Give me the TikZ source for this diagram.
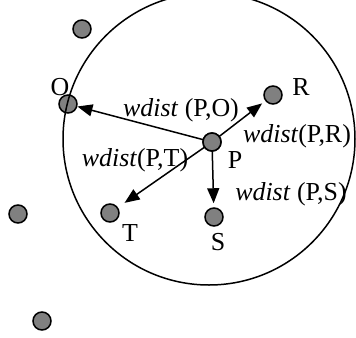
\documentclass[tikz,border=0pt]{standalone}
\usepackage{fontspec}
\setmainfont{Liberation Serif}
\usetikzlibrary{positioning,calc,arrows.meta}

\begin{document}
\begin{tikzpicture}[x=1bp,y=-1bp,->,>={Triangle[length=15bp,width=12bp]},
        line width=1.5bp,
        point/.style={draw, circle, fill=gray, line width=1.5bp, minimum size=18bp, inner sep=0pt},
        tag/.style={anchor=base, inner sep=0pt, font=\fontsize{26}{28}\selectfont}]
\useasboundingbox (0,0) rectangle (356,338);

\node[point] (P) at (212,142) {};
\node[point] (O) at (68,104) {};
\node[point] (R) at (273,95) {};
\node[point] (T) at (110,213) {};
\node[point] (S) at (214,217) {};
\node[point] (n1) at (82,29) {};
\node[point] (n2) at (18,214) {};
\node[point] (n3) at (42,321) {};

\node[tag] (lO) at (60,95) {O};
\node[tag] (lR) at (301,95) {R};
\node[tag] (lP) at (235,168) {P};
\node[tag] (lT) at (130,241) {T};
\node[tag] (lS) at (218,250) {S};

\node[tag] (dPO) at (181,116) {\textit{wdist} (P,O)};
\node[tag] (dPR) at (297,142) {\textit{wdist}(P,R)};
\node[tag] (dPT) at (135,166) {\textit{wdist}(P,T)};
\node[tag] (dPS) at (291,200) {\textit{wdist} (P,S)};

\draw (P.center) -- (O);
\draw[shorten >=4bp] (P.center) -- (R);
\draw[shorten >=8bp] (P.center) -- (T);
\draw[shorten >=4bp] (P.center) -- (S);
\node[point] at (P) {};

\draw[-] (209,139) circle[radius=146];

\end{tikzpicture}
\end{document}
